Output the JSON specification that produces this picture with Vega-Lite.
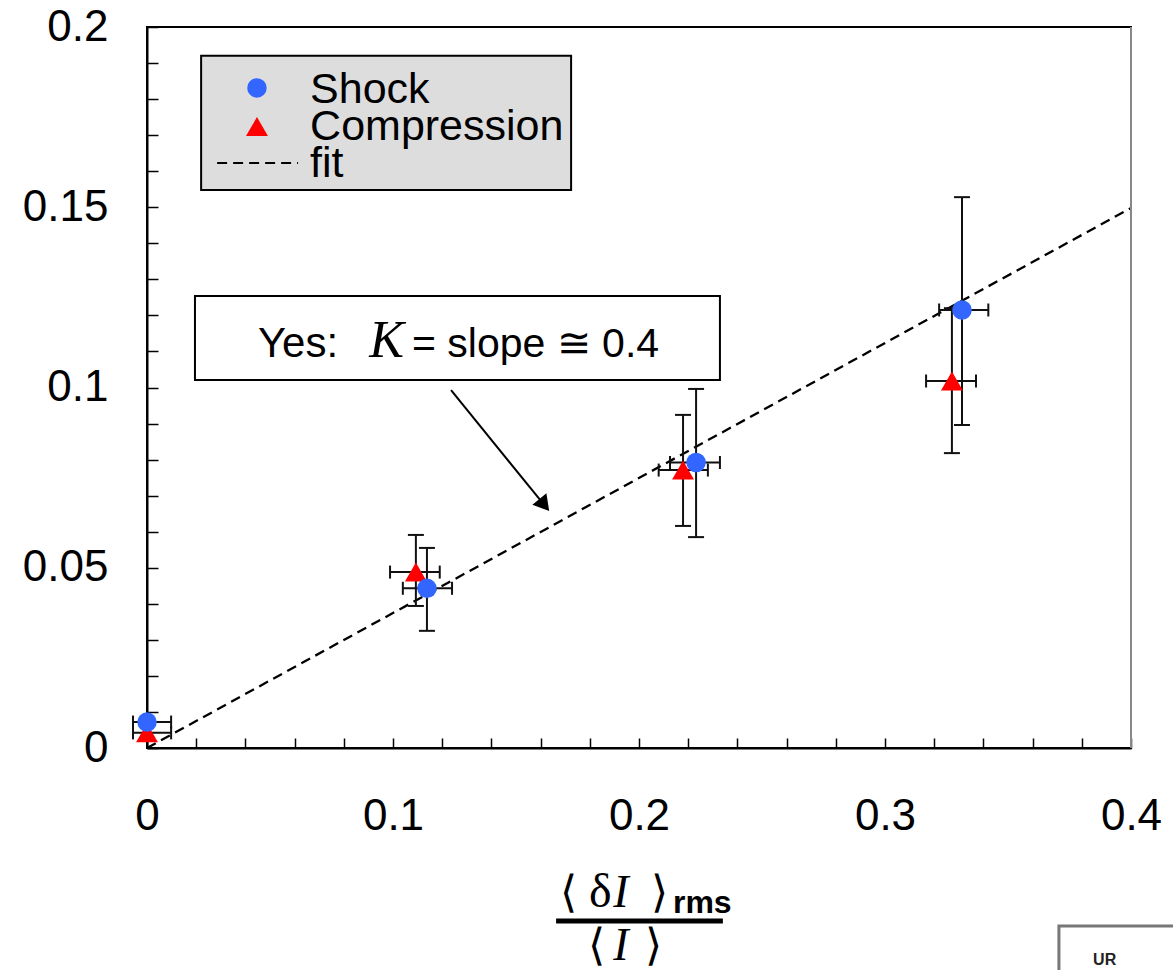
{
  "$schema": "https://vega.github.io/schema/vega-lite/v6.json",
  "width": 984,
  "height": 721,
  "autosize": {"type": "none"},
  "padding": {"left": 147, "top": 27, "right": 42, "bottom": 222},
  "background": "white",
  "config": {
    "view": {"stroke": "black", "strokeWidth": 2},
    "axis": {
      "grid": false,
      "title": null,
      "labelFont": "Liberation Sans",
      "labelFontSize": 44,
      "labelColor": "black",
      "domainColor": "black",
      "domainWidth": 2,
      "tickColor": "black",
      "tickWidth": 1.5,
      "labelOverlap": false,
      "labelFlush": false,
      "labelBound": false
    }
  },
  "datasets": {
    "pts": [
      {"series": "Shock", "x": 0, "y": 0.0072, "xlo": -0.0057, "xhi": 0.0098, "ylo": null, "yhi": null},
      {"series": "Shock", "x": 0.1138, "y": 0.0443, "xlo": 0.104, "xhi": 0.124, "ylo": 0.0325, "yhi": 0.0555},
      {"series": "Shock", "x": 0.2232, "y": 0.0792, "xlo": 0.2126, "xhi": 0.2329, "ylo": 0.0585, "yhi": 0.0996},
      {"series": "Shock", "x": 0.3313, "y": 0.1215, "xlo": 0.322, "xhi": 0.342, "ylo": 0.0896, "yhi": 0.1528},
      {"series": "Compression", "x": 0, "y": 0.0042, "xlo": -0.0057, "xhi": 0.0098, "ylo": null, "yhi": null},
      {"series": "Compression", "x": 0.1093, "y": 0.0488, "xlo": 0.0988, "xhi": 0.119, "ylo": 0.0394, "yhi": 0.0591},
      {"series": "Compression", "x": 0.2179, "y": 0.0771, "xlo": 0.208, "xhi": 0.228, "ylo": 0.0616, "yhi": 0.0924},
      {"series": "Compression", "x": 0.3272, "y": 0.1018, "xlo": 0.3167, "xhi": 0.337, "ylo": 0.0818, "yhi": 0.122}
    ],
    "fit": [
      {"x": 0, "y": 0},
      {"x": 0.4, "y": 0.1498}
    ],
    "one": [{}]
  },
  "data": {"name": "pts"},
  "encoding": {
    "x": {"type": "quantitative", "title": null, "scale": {"domain": [0, 0.4], "nice": false, "zero": false},
      "axis": {
        "title": null,
        "values": [0,0.02,0.04,0.06,0.08,0.1,0.12,0.14,0.16,0.18,0.2,0.22,0.24,0.26,0.28,0.3,0.32,0.34,0.36,0.38,0.4],
        "labelExpr": "abs(round(datum.value*100) % 10) == 0 ? format(datum.value, '~g') : ''",
        "tickSize": -10,
        "labelPadding": 56
      }
    },
    "y": {"type": "quantitative", "title": null, "scale": {"domain": [0, 0.2], "nice": false, "zero": false},
      "axis": {
        "title": null,
        "values": [0,0.01,0.02,0.03,0.04,0.05,0.06,0.07,0.08,0.09,0.1,0.11,0.12,0.13,0.14,0.15,0.16,0.17,0.18,0.19,0.2],
        "labelExpr": "abs(round(datum.value*100) % 5) == 0 ? format(datum.value, '~g') : ''",
        "tickSize": -11,
        "labelPadding": 50
      }
    }
  },
  "layer": [
    {
      "data": {"name": "fit"},
      "mark": {"type": "line", "color": "black", "strokeWidth": 2.3, "strokeDash": [10, 6]},
      "encoding": {"x": {"field": "x", "title": null}, "y": {"field": "y", "title": null}}
    },
    {
      "mark": {"type": "errorbar", "color": "#111111", "ticks": {"size": 13, "thickness": 2, "opacity": 1, "color": "#111111"}, "rule": {"strokeWidth": 2, "opacity": 1}},
      "encoding": {"x": {"field": "xlo", "title": null}, "x2": {"field": "xhi"}, "y": {"field": "y", "title": null}}
    },
    {
      "transform": [{"filter": "isValid(datum.ylo)"}],
      "mark": {"type": "errorbar", "color": "#111111", "ticks": {"size": 16, "thickness": 2, "opacity": 1, "color": "#111111"}, "rule": {"strokeWidth": 2, "opacity": 1}},
      "encoding": {"x": {"field": "x", "title": null}, "y": {"field": "ylo", "title": null}, "y2": {"field": "yhi"}}
    },
    {
      "transform": [{"filter": "datum.series == 'Compression'"}],
      "mark": {"type": "point", "shape": "triangle-up", "filled": true, "color": "#ff0000", "size": 480, "opacity": 1},
      "encoding": {"x": {"field": "x", "title": null}, "y": {"field": "y", "title": null}}
    },
    {
      "transform": [{"filter": "datum.series == 'Shock'"}],
      "mark": {"type": "point", "shape": "circle", "filled": true, "color": "#3366ff", "size": 380, "opacity": 1},
      "encoding": {"x": {"field": "x", "title": null}, "y": {"field": "y", "title": null}}
    },
    {
      "data": {"name": "one"},
      "mark": {"type": "rule", "color": "#888888", "strokeWidth": 2},
      "encoding": {"x": {"datum": 0.4}, "y": {"datum": 0}, "y2": {"datum": 0.2}}
    },
    {
      "data": {"name": "one"},
      "mark": {"type": "rect", "fill": "#dddddd", "stroke": "black", "strokeWidth": 2},
      "encoding": {"x": {"datum": 0.022}, "x2": {"datum": 0.1724}, "y": {"datum": 0.192}, "y2": {"datum": 0.1548}}
    },
    {
      "data": {"name": "one"},
      "mark": {"type": "point", "shape": "circle", "filled": true, "color": "#3366ff", "size": 380, "opacity": 1},
      "encoding": {"x": {"datum": 0.0447}, "y": {"datum": 0.1831}}
    },
    {
      "data": {"name": "one"},
      "mark": {"type": "point", "shape": "triangle-up", "filled": true, "color": "#ff0000", "size": 480, "opacity": 1},
      "encoding": {"x": {"datum": 0.0447}, "y": {"datum": 0.1724}}
    },
    {
      "data": {"name": "one"},
      "mark": {"type": "rule", "color": "black", "strokeWidth": 2, "strokeDash": [10, 6]},
      "encoding": {"x": {"datum": 0.0285}, "x2": {"datum": 0.0614}, "y": {"datum": 0.1623}}
    },
    {
      "data": {"name": "one"},
      "mark": {"type": "text", "text": "Shock", "font": "Liberation Sans", "fontSize": 43, "align": "left", "baseline": "alphabetic", "color": "black"},
      "encoding": {"x": {"datum": 0.0663}, "y": {"datum": 0.1789}}
    },
    {
      "data": {"name": "one"},
      "mark": {"type": "text", "text": "Compression", "font": "Liberation Sans", "fontSize": 43, "align": "left", "baseline": "alphabetic", "color": "black"},
      "encoding": {"x": {"datum": 0.0663}, "y": {"datum": 0.1687}}
    },
    {
      "data": {"name": "one"},
      "mark": {"type": "text", "text": "fit", "font": "Liberation Sans", "fontSize": 43, "align": "left", "baseline": "alphabetic", "color": "black"},
      "encoding": {"x": {"datum": 0.0663}, "y": {"datum": 0.1584}}
    },
    {
      "data": {"name": "one"},
      "mark": {"type": "rect", "fill": "white", "stroke": "black", "strokeWidth": 2},
      "encoding": {"x": {"datum": 0.0195}, "x2": {"datum": 0.2329}, "y": {"datum": 0.1254}, "y2": {"datum": 0.1021}}
    },
    {
      "data": {"name": "one"},
      "mark": {"type": "text", "text": "Yes:", "font": "Liberation Sans", "fontSize": 42, "align": "left", "baseline": "alphabetic", "color": "black"},
      "encoding": {"x": {"datum": 0.0451}, "y": {"datum": 0.1085}}
    },
    {
      "data": {"name": "one"},
      "mark": {"type": "text", "text": "K", "font": "Liberation Serif", "fontStyle": "italic", "fontSize": 52, "align": "left", "baseline": "alphabetic", "color": "black"},
      "encoding": {"x": {"datum": 0.0903}, "y": {"datum": 0.1085}}
    },
    {
      "data": {"name": "one"},
      "mark": {"type": "text", "text": "= slope ≅ 0.4", "font": "Liberation Sans", "fontSize": 41, "align": "left", "baseline": "alphabetic", "color": "black"},
      "encoding": {"x": {"datum": 0.1077}, "y": {"datum": 0.1085}}
    },
    {
      "data": {"name": "one"},
      "mark": {"type": "rule", "color": "black", "strokeWidth": 2},
      "encoding": {"x": {"datum": 0.1236}, "x2": {"datum": 0.1598}, "y": {"datum": 0.0993}, "y2": {"datum": 0.0688}}
    },
    {
      "data": {"name": "one"},
      "mark": {"type": "point", "shape": "triangle-up", "filled": true, "color": "black", "size": 324, "angle": 141, "opacity": 1},
      "encoding": {"x": {"datum": 0.1615}, "y": {"datum": 0.0674}}
    },
    {
      "data": {"name": "one"},
      "mark": {"type": "text", "text": "⟨", "font": "Liberation Serif", "fontSize": 44, "align": "left", "baseline": "alphabetic", "color": "black"},
      "encoding": {"x": {"datum": 0.1679}, "y": {"datum": -0.0441}}
    },
    {
      "data": {"name": "one"},
      "mark": {"type": "text", "text": "δ", "font": "Liberation Serif", "fontSize": 48, "align": "left", "baseline": "alphabetic", "color": "black"},
      "encoding": {"x": {"datum": 0.1797}, "y": {"datum": -0.0441}}
    },
    {
      "data": {"name": "one"},
      "mark": {"type": "text", "text": "I", "font": "Liberation Serif", "fontStyle": "italic", "fontSize": 46, "align": "left", "baseline": "alphabetic", "color": "black"},
      "encoding": {"x": {"datum": 0.1895}, "y": {"datum": -0.0441}}
    },
    {
      "data": {"name": "one"},
      "mark": {"type": "text", "text": "⟩", "font": "Liberation Serif", "fontSize": 44, "align": "left", "baseline": "alphabetic", "color": "black"},
      "encoding": {"x": {"datum": 0.2047}, "y": {"datum": -0.0441}}
    },
    {
      "data": {"name": "one"},
      "mark": {"type": "text", "text": "rms", "font": "Liberation Sans", "fontWeight": "bold", "fontSize": 32, "align": "left", "baseline": "alphabetic", "color": "black"},
      "encoding": {"x": {"datum": 0.2138}, "y": {"datum": -0.0458}}
    },
    {
      "data": {"name": "one"},
      "mark": {"type": "rule", "color": "black", "strokeWidth": 5},
      "encoding": {"x": {"datum": 0.1663}, "x2": {"datum": 0.2341}, "y": {"datum": -0.048}}
    },
    {
      "data": {"name": "one"},
      "mark": {"type": "text", "text": "⟨", "font": "Liberation Serif", "fontSize": 44, "align": "left", "baseline": "alphabetic", "color": "black"},
      "encoding": {"x": {"datum": 0.1793}, "y": {"datum": -0.0588}}
    },
    {
      "data": {"name": "one"},
      "mark": {"type": "text", "text": "I", "font": "Liberation Serif", "fontStyle": "italic", "fontSize": 46, "align": "left", "baseline": "alphabetic", "color": "black"},
      "encoding": {"x": {"datum": 0.1895}, "y": {"datum": -0.0588}}
    },
    {
      "data": {"name": "one"},
      "mark": {"type": "text", "text": "⟩", "font": "Liberation Serif", "fontSize": 44, "align": "left", "baseline": "alphabetic", "color": "black"},
      "encoding": {"x": {"datum": 0.2025}, "y": {"datum": -0.0588}}
    },
    {
      "data": {"name": "one"},
      "mark": {"type": "rect", "fill": "white", "stroke": "#777777", "strokeWidth": 3},
      "encoding": {"x": {"datum": 0.3707}, "x2": {"datum": 0.46}, "y": {"datum": -0.0494}, "y2": {"datum": -0.07}}
    },
    {
      "data": {"name": "one"},
      "mark": {"type": "text", "text": "UR", "font": "Liberation Sans", "fontWeight": "bold", "fontSize": 16, "align": "left", "baseline": "alphabetic", "color": "#222222"},
      "encoding": {"x": {"datum": 0.3846}, "y": {"datum": -0.0602}}
    }
  ]
}
